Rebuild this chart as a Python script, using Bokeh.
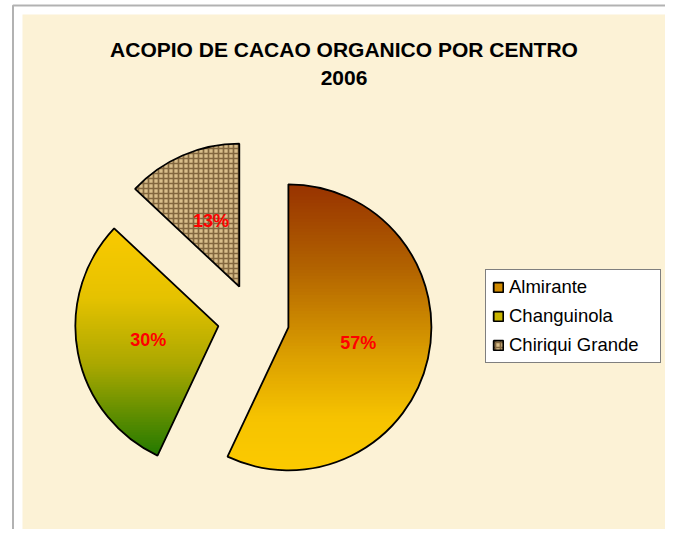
import numpy as np
from bokeh.plotting import figure
from bokeh.models import Range1d, BoxAnnotation, Label, Legend, LegendItem, ColumnDataSource
from bokeh.core.properties import value
from bokeh.embed import file_html
from bokeh.resources import INLINE

# ---- data ----
categories = ["Almirante", "Changuinola", "Chiriqui Grande"]
shares = [57, 30, 13]
pct_labels = ["57%", "30%", "13%"]
title_line1 = "ACOPIO DE CACAO ORGANICO POR CENTRO"
title_line2 = "2006"

# ---- styles ----
FONT = "Liberation Sans"
grad_stops = {
    "Almirante": [(0.0, "#973200"), (0.3, "#B36400"), (0.6, "#DB9F00"), (0.82, "#F6C300"), (1.0, "#FCCA00")],
    "Changuinola": [(0.0, "#FACA00"), (0.3, "#E6C200"), (0.6, "#ABA800"), (1.0, "#237900")],
}
base_colors = {"Almirante": "#D08A00", "Changuinola": "#C8B400", "Chiriqui Grande": "#D8BE8A"}

W, H = 665, 529
p = figure(width=W, height=H, x_range=Range1d(0, W), y_range=Range1d(0, H),
           output_backend="svg", toolbar_location=None, min_border=0,
           x_axis_location=None, y_axis_location=None)
p.xgrid.visible = False
p.ygrid.visible = False
p.outline_line_color = None
p.background_fill_color = "white"
p.border_fill_color = "white"

# chart area decoration (frame + parchment area)
p.add_layout(BoxAnnotation(left=22, right=W + 20, bottom=-20, top=515,
                           fill_color="#FCF2D6", fill_alpha=1, line_color=None, level="underlay"))
p.add_layout(BoxAnnotation(left=12.5, right=W + 20, bottom=-20, top=524,
                           fill_alpha=0, line_color="black", line_width=2, level="underlay"))

# ---- pie geometry ----
cx, cy, R = 253.0, 210.0, 143.0
explode = 0.25 * R
vals = np.array(shares, dtype=float)
cum = np.concatenate([[0.0], np.cumsum(vals) / vals.sum()])
start_a = np.pi / 2 - 2 * np.pi * cum[1:]
end_a = np.pi / 2 - 2 * np.pi * cum[:-1]
mid_a = (start_a + end_a) / 2
xs_c = cx + explode * np.cos(mid_a)
ys_c = cy + explode * np.sin(mid_a)
lab_x = xs_c + 0.5 * R * np.cos(mid_a)
lab_y = ys_c + 0.5 * R * np.sin(mid_a)


def hexrgb(h):
    h = h.lstrip("#")
    return np.array([int(h[i:i + 2], 16) for i in (0, 2, 4)], dtype=float)


def interp_color(stops, t):
    for (t0, c0), (t1, c1) in zip(stops[:-1], stops[1:]):
        if t <= t1:
            f = 0 if t1 == t0 else (t - t0) / (t1 - t0)
            c = hexrgb(c0) * (1 - f) + hexrgb(c1) * f
            return "#%02x%02x%02x" % tuple(int(round(v)) for v in c)
    return stops[-1][1]


def clip_half(pts, yc, keep_above):
    out = []
    n = len(pts)
    for i in range(n):
        P = pts[i]
        Q = pts[(i + 1) % n]
        inP = P[1] >= yc if keep_above else P[1] <= yc
        inQ = Q[1] >= yc if keep_above else Q[1] <= yc
        if inP:
            out.append(P)
        if inP != inQ:
            t = (yc - P[1]) / (Q[1] - P[1])
            out.append((P[0] + t * (Q[0] - P[0]), yc))
    return out


legend_items = []
for i, cat in enumerate(categories):
    src = dict(x=[xs_c[i]], y=[ys_c[i]], s=[start_a[i]], e=[end_a[i]])
    if cat in grad_stops:
        base = p.wedge(x="x", y="y", radius=R, start_angle="s", end_angle="e",
                       fill_color=base_colors[cat], line_color=None,
                       source=ColumnDataSource(src))
        # vertical gradient bands clipped to the slice
        angs = np.linspace(start_a[i], end_a[i], 240)
        poly = [(xs_c[i], ys_c[i])] + [(xs_c[i] + R * np.cos(a), ys_c[i] + R * np.sin(a)) for a in angs]
        ymin = min(q[1] for q in poly)
        ymax = max(q[1] for q in poly)
        N = 90
        bx, by, bc = [], [], []
        edges = np.linspace(ymax, ymin, N + 1)
        for k in range(N):
            top, bot = edges[k] + 0.4, edges[k + 1] - 0.4
            pc = clip_half(clip_half(poly, bot, True), top, False)
            if len(pc) < 3:
                continue
            bx.append([q[0] for q in pc])
            by.append([q[1] for q in pc])
            bc.append(interp_color(grad_stops[cat], (k + 0.5) / N))
        p.patches(xs="xs", ys="ys", fill_color="c", line_color=None,
                  source=ColumnDataSource(dict(xs=bx, ys=by, c=bc)))
    else:
        base = p.wedge(x="x", y="y", radius=R, start_angle="s", end_angle="e",
                       fill_color=base_colors[cat], line_color=None,
                       hatch_pattern="cross", hatch_color="#5E4220", hatch_scale=5,
                       hatch_weight=1.7, hatch_alpha=0.7,
                       source=ColumnDataSource(src))
    outline = p.wedge(x="x", y="y", radius=R, start_angle="s", end_angle="e",
                      fill_alpha=0, line_color="black", line_width=1.8,
                      source=ColumnDataSource(src))
    legend_items.append(LegendItem(label=cat, renderers=[base, outline]))

p.text(x="x", y="y", text="t", source=ColumnDataSource(dict(x=lab_x, y=lab_y, t=pct_labels)),
       text_align="center", text_baseline="middle", text_color="#FF0000",
       text_font=value(FONT), text_font_style="bold", text_font_size="18px")

# ---- title ----
p.add_layout(Label(x=343.5, y=480.5, text=title_line1, text_align="center",
                   text_baseline="alphabetic", text_font=FONT, text_font_style="bold",
                   text_font_size="21px", text_color="black"))
p.add_layout(Label(x=343.5, y=452, text=title_line2, text_align="center",
                   text_baseline="alphabetic", text_font=FONT, text_font_style="bold",
                   text_font_size="21px", text_color="black"))

# ---- legend ----
legend = Legend(items=legend_items, location=(485, 166), orientation="vertical",
                label_text_font=FONT, label_text_font_size="18.5px", label_text_color="black",
                glyph_width=12, glyph_height=12, label_standoff=5, label_height=22,
                label_width=145, padding=6, spacing=7, margin=0,
                border_line_color="black", border_line_width=1,
                background_fill_color="white", background_fill_alpha=1)
p.add_layout(legend)

open("out.html", "w").write(file_html(p, INLINE))
